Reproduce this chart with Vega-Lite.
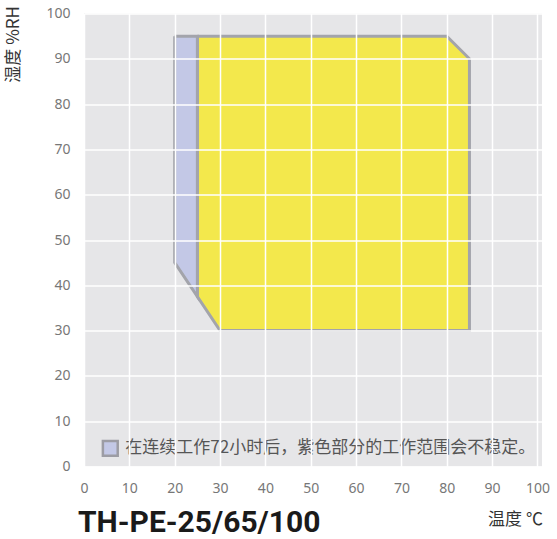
{
  "$schema": "https://vega.github.io/schema/vega-lite/v6.json",
  "autosize": "none",
  "width": 458,
  "height": 453,
  "padding": {"left": 84, "top": 13.5, "right": 15, "bottom": 72.5},
  "background": "white",
  "config": {
    "view": {"fill": "#e6e6e8", "stroke": null},
    "font": "Noto Sans"
  },
  "title": {
    "text": "TH-PE-25/65/100",
    "orient": "bottom",
    "anchor": "start",
    "frame": "group",
    "font": "Roboto",
    "fontSize": 30,
    "fontWeight": "bold",
    "color": "#1a1a1a",
    "offset": 0,
    "dx": -6,
    "dy": -20
  },
  "datasets": {
    "poly": [
      {"region": "yellow", "o": 1, "temp": 25, "hum": 95},
      {"region": "yellow", "o": 2, "temp": 80, "hum": 95},
      {"region": "yellow", "o": 3, "temp": 85, "hum": 90},
      {"region": "yellow", "o": 4, "temp": 85, "hum": 30},
      {"region": "yellow", "o": 5, "temp": 30, "hum": 30},
      {"region": "yellow", "o": 6, "temp": 25, "hum": 37.5},
      {"region": "yellow", "o": 7, "temp": 25, "hum": 95},
      {"region": "purple", "o": 1, "temp": 20, "hum": 95},
      {"region": "purple", "o": 2, "temp": 25, "hum": 95},
      {"region": "purple", "o": 3, "temp": 25, "hum": 37.5},
      {"region": "purple", "o": 4, "temp": 20, "hum": 45},
      {"region": "purple", "o": 5, "temp": 20, "hum": 95}
    ],
    "note": [
      {"label": "在连续工作72小时后，紫色部分的工作范围会不稳定。"}
    ]
  },
  "layer": [
    {
      "data": {"name": "poly"},
      "transform": [{"filter": "datum.region === 'yellow'"}],
      "mark": {"type": "line", "fill": "#f3e84c", "stroke": "#a3a4ab", "strokeWidth": 3, "strokeJoin": "miter"},
      "encoding": {
        "x": {
          "field": "temp", "type": "quantitative",
          "scale": {"domain": [0, 101], "nice": false},
          "axis": {
            "values": [0, 10, 20, 30, 40, 50, 60, 70, 80, 90, 100],
            "title": "温度 ℃",
            "titleX": 431, "titleY": 53,
            "titleAlign": "center", "titleBaseline": "middle",
            "titleFont": "Noto Sans CJK SC", "titleFontSize": 17, "titleFontWeight": "normal", "titleColor": "#333333",
            "labelFont": "Noto Sans", "labelFontSize": 14, "labelColor": "#777777",
            "labelPadding": 15, "labelFlush": false,
            "ticks": false, "domain": false,
            "grid": true, "gridColor": "#ffffff", "gridWidth": 1.5, "zindex": 1
          }
        },
        "y": {
          "field": "hum", "type": "quantitative",
          "scale": {"domain": [0, 100], "nice": false},
          "axis": {
            "values": [0, 10, 20, 30, 40, 50, 60, 70, 80, 90, 100],
            "title": "湿度 %RH",
            "titleX": -71, "titleY": -8,
            "titleAngle": 270,
            "titleAlign": "right", "titleBaseline": "middle",
            "titleFont": "Noto Sans CJK SC", "titleFontSize": 17, "titleFontWeight": "normal", "titleColor": "#333333",
            "labelFont": "Noto Sans", "labelFontSize": 14, "labelColor": "#777777",
            "labelPadding": 14, "labelFlush": false,
            "ticks": false, "domain": false,
            "grid": true, "gridColor": "#ffffff", "gridWidth": 1.5, "zindex": 1
          }
        },
        "order": {"field": "o", "type": "quantitative"}
      }
    },
    {
      "data": {"name": "poly"},
      "transform": [{"filter": "datum.region === 'purple'"}],
      "mark": {"type": "line", "fill": "#c3c8e6", "stroke": "#a3a4ab", "strokeWidth": 3, "strokeJoin": "miter"},
      "encoding": {
        "x": {"field": "temp", "type": "quantitative"},
        "y": {"field": "hum", "type": "quantitative"},
        "order": {"field": "o", "type": "quantitative"}
      }
    },
    {
      "data": {"name": "note"},
      "mark": {"type": "point", "shape": "square", "size": 220, "filled": true, "fill": "#c3c8e6", "stroke": "#9c9ca4", "strokeWidth": 2.5, "opacity": 1},
      "encoding": {
        "x": {"datum": 5.8, "type": "quantitative"},
        "y": {"datum": 4, "type": "quantitative"}
      }
    },
    {
      "data": {"name": "note"},
      "mark": {"type": "text", "align": "left", "baseline": "middle", "font": "Noto Sans CJK SC", "fontSize": 17, "color": "#555555"},
      "encoding": {
        "x": {"datum": 9.1, "type": "quantitative"},
        "y": {"datum": 4, "type": "quantitative"},
        "text": {"field": "label"}
      }
    }
  ]
}
